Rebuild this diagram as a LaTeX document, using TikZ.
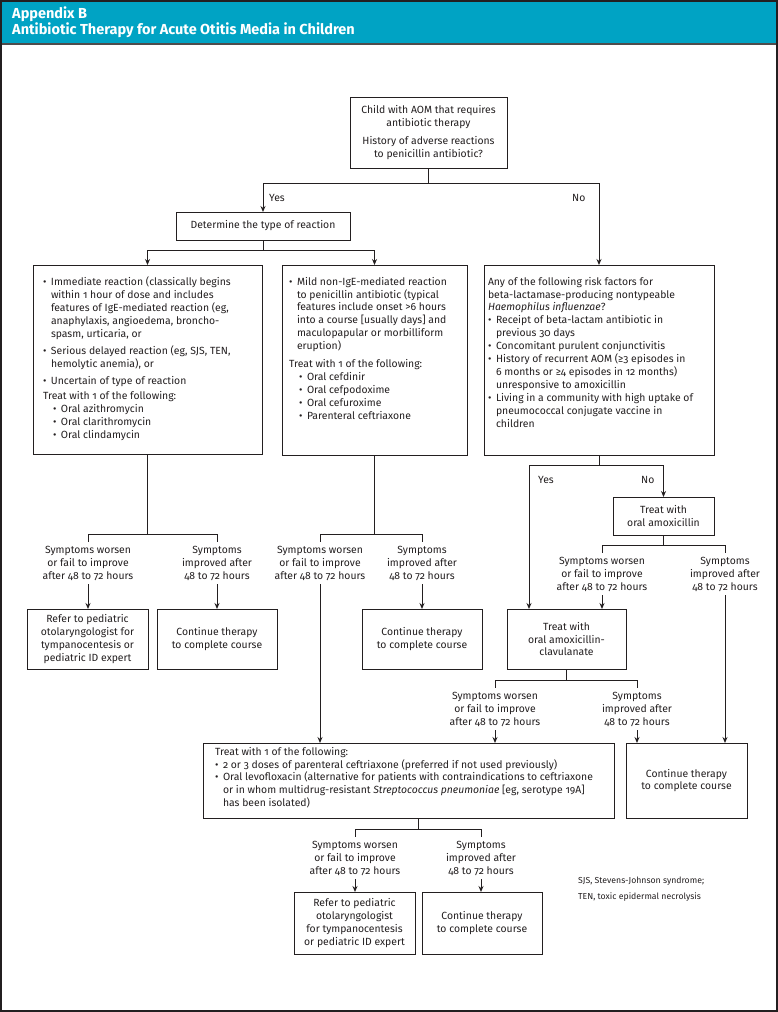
\documentclass[tikz,border=0pt]{standalone}
\usepackage{fontspec}
\setmainfont{Fira Sans}[Numbers=OldStyle]
\usetikzlibrary{arrows.meta,calc}
\definecolor{hdrcol}{RGB}{0,163,196}
\definecolor{ink}{RGB}{35,31,32}
\newcommand\bodyf{\fontsize{10.4}{12.9}\selectfont}
\newcommand\bul{\makebox[8pt][l]{\textbullet}}
\newcommand\ind{\hspace*{8pt}}
\tikzset{
  box/.style={draw=ink, line width=1pt, inner sep=0pt, outer sep=0pt, align=center, font=\bodyf, text=ink},
  txt/.style={inner sep=0pt, outer sep=0pt, align=left, anchor=north west, font=\bodyf, text=ink},
  lab/.style={inner xsep=0pt, inner ysep=4pt, outer sep=0pt, align=center, anchor=north, font=\bodyf, text=ink},
  yn/.style={inner sep=0pt, anchor=base west, font=\bodyf, text=ink},
  con/.style={draw=ink, line width=1pt},
  arr/.style={con, -{Stealth[length=6pt,width=5pt]}},
  hd/.style={anchor=base west, inner sep=0pt, text=white, font=\bfseries\fontsize{14.5}{16}\selectfont},
}
\begin{document}
\begin{tikzpicture}[x=1pt,y=-1pt]
\useasboundingbox (0,0) rectangle (778,1012);
\fill[hdrcol] (0,0) rectangle (778,44);
\draw[ink!80, line width=1.2pt] (0,44) -- (778,44);
\draw[ink, line width=2pt] (1,1) rectangle (777,1011);
\node[hd] (h1) at (12,18.5) {Appendix B};
\node[hd] (h2) at (12,34.5) {Antibiotic Therapy for Acute Otitis Media in Children};

% top
\node[box, minimum width=157pt, minimum height=71pt] (top) at (428.5,132.5)
  {Child with AOM that requires\\antibiotic therapy\\[5pt]History of adverse reactions\\to penicillin antibiotic?};
\node[box, minimum width=174pt, minimum height=28pt] (det) at (263,226) {Determine the type of reaction};
\node[yn] (yes1) at (269,201) {Yes};
\node[yn] (no1) at (572,201) {No};

% second row boxes
\node[box, minimum width=229pt, minimum height=189pt] (LB) at (147.5,359.5) {};
\node[box, minimum width=185pt, minimum height=190pt] (MB) at (374.5,360) {};
\node[box, minimum width=230pt, minimum height=190pt] (RB) at (599,360) {};

\node[txt] (LBt) at (43,277) {\bul Immediate reaction (classically begins\\
\ind within 1 hour of dose and includes\\
\ind features of IgE-mediated reaction (eg,\\
\ind anaphylaxis, angioedema, broncho-\\
\ind spasm, urticaria, or\\[4pt]
\bul Serious delayed reaction (eg, SJS, TEN,\\
\ind hemolytic anemia), or\\[4pt]
\bul Uncertain of type of reaction\\[3pt]
Treat with 1 of the following:\\
\hspace*{10pt}\bul Oral azithromycin\\
\hspace*{10pt}\bul Oral clarithromycin\\
\hspace*{10pt}\bul Oral clindamycin};

\node[txt] (MBt) at (289,277) {\bul Mild non-IgE-mediated reaction\\
\ind to penicillin antibiotic (typical\\
\ind features include onset >6 hours\\
\ind into a course [usually days] and\\
\ind maculopapular or morbilliform\\
\ind eruption)\\[5pt]
Treat with 1 of the following:\\
\hspace*{10pt}\bul Oral cefdinir\\
\hspace*{10pt}\bul Oral cefpodoxime\\
\hspace*{10pt}\bul Oral cefuroxime\\
\hspace*{10pt}\bul Parenteral ceftriaxone};

\node[txt] (RBt) at (488,277) {Any of the following risk factors for\\
beta-lactamase-producing nontypeable\\
\textit{Haemophilus influenzae}?\\
\bul Receipt of beta-lactam antibiotic in\\
\ind previous 30 days\\
\bul Concomitant purulent conjunctivitis\\
\bul History of recurrent AOM (≥3 episodes in\\
\ind 6 months or ≥4 episodes in 12 months)\\
\ind unresponsive to amoxicillin\\
\bul Living in a community with high uptake of\\
\ind pneumococcal conjugate vaccine in\\
\ind children};

% connectors top
\coordinate (j1) at (428.5,183);
\draw[con] (top.south) -- (j1);
\draw[arr] (j1) -| (det.north);
\draw[arr] (j1) -| (RB.north);
\coordinate (j2) at (263,250);
\draw[con] (det.south) -- (j2);
\draw[arr] (j2) -| (LB.north);
\draw[arr] (j2) -| (MB.north);

% left branch
\coordinate (jL) at (147.5,534);
\node[lab] (L1) at (88,542) {Symptoms worsen\\or fail to improve\\after 48 to 72 hours};
\node[lab] (L2) at (217,542) {Symptoms\\improved after\\48 to 72 hours};
\node[box, minimum width=121pt, minimum height=60pt] (LL) at (87.5,639) {Refer to pediatric\\otolaryngologist for\\tympanocentesis or\\pediatric ID expert};
\node[box, minimum width=120pt, minimum height=60pt] (LC) at (217,639) {Continue therapy\\to complete course};
\draw[con] (LB.south) -- (jL);
\draw[con] (jL) -| (L1.north);
\draw[con] (jL) -| (L2.north);
\draw[arr] (L1.south) -- (L1.south |- LL.north);
\draw[arr] (L2.south) -- (LC.north);

% middle branch
\coordinate (jM) at (374.5,534);
\node[lab] (M1) at (320,542) {Symptoms worsen\\or fail to improve\\after 48 to 72 hours};
\node[lab] (M2) at (422,542) {Symptoms\\improved after\\48 to 72 hours};
\node[box, minimum width=120pt, minimum height=60pt] (MC) at (422,639) {Continue therapy\\to complete course};
\draw[con] (MB.south) -- (jM);
\draw[con] (jM) -| (M1.north);
\draw[con] (jM) -| (M2.north);
\draw[arr] (M2.south) -- (MC.north);

% right branch
\coordinate (jR) at (599,465);
\coordinate (yc) at (529,465);
\node[yn] (yes2) at (538,483) {Yes};
\node[yn] (no2) at (641,483) {No};
\node[box, minimum width=101pt, minimum height=38pt] (A1) at (663.5,516) {Treat with\\oral amoxicillin};
\node[box, minimum width=119pt, minimum height=60pt] (AC) at (566.5,639) {Treat with\\oral amoxicillin-\\clavulanate};
\node[box, minimum width=121pt, minimum height=75pt] (CR) at (686.5,780.5) {Continue therapy\\to complete course};
\draw[con] (RB.south) -- (jR);
\draw[arr] (jR) -- (yc) -- (yc |- AC.north);
\draw[arr] (jR) -| (A1.north);
\coordinate (jA) at (663.5,545);
\node[lab] (A1w) at (602,553) {Symptoms worsen\\or fail to improve\\after 48 to 72 hours};
\node[lab] (A1i) at (725,553) {Symptoms\\improved after\\48 to 72 hours};
\draw[con] (A1.south) -- (jA);
\draw[con] (jA) -| (A1w.north);
\draw[con] (jA) -| (A1i.north);
\draw[arr] (A1w.south) -- (A1w.south |- AC.north);
\draw[arr] (A1i.south) -- (A1i.south |- CR.north);

\coordinate (jC) at (566.5,680);
\node[lab] (ACw) at (495,688) {Symptoms worsen\\or fail to improve\\after 48 to 72 hours};
\node[lab] (ACi) at (637,688) {Symptoms\\improved after\\48 to 72 hours};
\draw[con] (AC.south) -- (jC);
\draw[con] (jC) -| (ACw.north);
\draw[con] (jC) -| (ACi.north);

% treat box
\node[box, minimum width=411pt, minimum height=75pt] (TB) at (408.5,780.5) {};
\node[txt] (TBt) at (215,747) {Treat with 1 of the following:\\
\bul 2 or 3 doses of parenteral ceftriaxone (preferred if not used previously)\\
\bul Oral levofloxacin (alternative for patients with contraindications to ceftriaxone\\
\ind or in whom multidrug-resistant \textit{Streptococcus pneumoniae} [eg, serotype 19A]\\
\ind has been isolated)};
\draw[arr] (M1.south) -- (M1.south |- TB.north);
\draw[arr] (ACw.south) -- (ACw.south |- TB.north);
\draw[arr] (ACi.south) -- (ACi.south |- CR.north);

% bottom
\coordinate (jT) at (418,829);
\node[lab] (Tw) at (355,837) {Symptoms worsen\\or fail to improve\\after 48 to 72 hours};
\node[lab] (Ti) at (481,837) {Symptoms\\improved after\\48 to 72 hours};
\node[box, minimum width=121pt, minimum height=62pt] (TR) at (354.5,923) {Refer to pediatric\\otolaryngologist\\for tympanocentesis\\or pediatric ID expert};
\node[box, minimum width=120pt, minimum height=62pt] (TC) at (482,923) {Continue therapy\\to complete course};
\draw[con] (TB.south -| jT) -- (jT);
\draw[con] (jT) -| (Tw.north);
\draw[con] (jT) -| (Ti.north);
\draw[arr] (Tw.south) -- (Tw.south |- TR.north);
\draw[arr] (Ti.south) -- (Ti.south |- TC.north);

% footnote
\node[yn, font=\fontsize{8.7}{10}\selectfont] (fn1) at (578,883) {SJS, Stevens-Johnson syndrome;};
\node[yn, font=\fontsize{8.7}{10}\selectfont] (fn2) at (578,899) {TEN, toxic epidermal necrolysis};
\end{tikzpicture}
\end{document}
